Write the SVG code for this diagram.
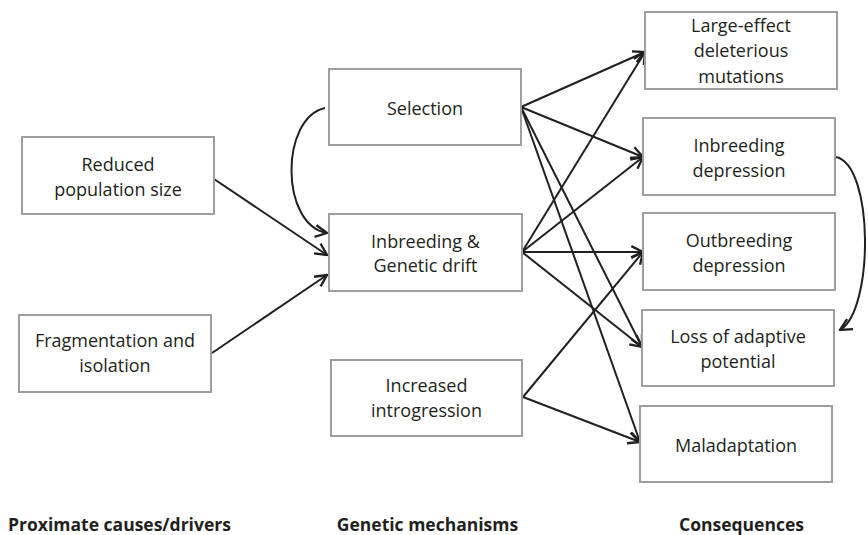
<svg xmlns="http://www.w3.org/2000/svg" width="868" height="535" viewBox="0 0 868 535">
<style>
.box{fill:#fff;stroke:#9e9e9e;stroke-width:2}
.t{font-family:"Open Sans","Liberation Sans",sans-serif;font-size:18px;fill:#231f20;text-anchor:middle}
.h{font-family:"Open Sans","Liberation Sans",sans-serif;font-size:17.5px;font-weight:bold;fill:#231f20;text-anchor:middle}
.c{fill:none;stroke:#231f20;stroke-width:2;marker-end:url(#arr)}
</style>
<defs>
<marker id="arr" markerUnits="userSpaceOnUse" markerWidth="14" markerHeight="14" viewBox="0 0 12 12" refX="11" refY="6" orient="auto">
<path d="M1,1 L11,6 L1,11" fill="none" stroke="#231f20" stroke-width="2"/>
</marker>
</defs>
<rect width="868" height="535" fill="#fff"/>
<g id="connectors">
<line class="c" x1="214" y1="179" x2="327" y2="255"/>
<line class="c" x1="212" y1="353" x2="327" y2="275"/>
<path class="c" d="M325,108 C280,118 280,225 327,233"/>
<line class="c" x1="521" y1="107" x2="645" y2="52"/>
<line class="c" x1="521" y1="107" x2="643" y2="157"/>
<line class="c" x1="521" y1="107" x2="642" y2="347"/>
<line class="c" x1="521" y1="107" x2="640" y2="442"/>
<line class="c" x1="522" y1="252" x2="645" y2="52"/>
<line class="c" x1="522" y1="252" x2="643" y2="157"/>
<line class="c" x1="522" y1="252" x2="643" y2="252"/>
<line class="c" x1="522" y1="252" x2="642" y2="347"/>
<line class="c" x1="523" y1="397" x2="643" y2="252"/>
<line class="c" x1="523" y1="397" x2="640" y2="442"/>
<path class="c" d="M836,157 C874,165 874,310 840,330"/>
</g>
<g id="reduced"><rect class="box" x="22" y="137" width="192" height="77"/><text class="t" x="118" y="171">Reduced</text><text class="t" x="118" y="196">population size</text></g>
<g id="fragmentation"><rect class="box" x="19" y="315" width="192" height="77"/><text class="t" x="115" y="347">Fragmentation and</text><text class="t" x="115" y="372">isolation</text></g>
<g id="selection"><rect class="box" x="329" y="69" width="192" height="76"/><text class="t" x="425" y="115">Selection</text></g>
<g id="inbreeding-drift"><rect class="box" x="329" y="214" width="193" height="77"/><text class="t" x="425.5" y="248">Inbreeding &amp;</text><text class="t" x="425.5" y="272">Genetic drift</text></g>
<g id="introgression"><rect class="box" x="331" y="360" width="191" height="76"/><text class="t" x="426.5" y="392">Increased</text><text class="t" x="426.5" y="417">introgression</text></g>
<g id="large-effect"><rect class="box" x="645" y="12" width="192" height="77"/><text class="t" x="741" y="32">Large-effect</text><text class="t" x="741" y="57">deleterious</text><text class="t" x="741" y="83">mutations</text></g>
<g id="inbreeding-depression"><rect class="box" x="643" y="118" width="192" height="77"/><text class="t" x="739" y="152">Inbreeding</text><text class="t" x="739" y="177">depression</text></g>
<g id="outbreeding-depression"><rect class="box" x="643" y="213" width="192" height="77"/><text class="t" x="739" y="247">Outbreeding</text><text class="t" x="739" y="272">depression</text></g>
<g id="loss-adaptive"><rect class="box" x="642" y="310" width="192" height="76"/><text class="t" x="738" y="343">Loss of adaptive</text><text class="t" x="738" y="368">potential</text></g>
<g id="maladaptation"><rect class="box" x="640" y="406" width="192" height="76"/><text class="t" x="736" y="452">Maladaptation</text></g>
<g id="labels">
<text class="h" x="119.5" y="531">Proximate causes/drivers</text>
<text class="h" x="427.5" y="531">Genetic mechanisms</text>
<text class="h" x="741.5" y="531">Consequences</text>
</g>
</svg>
